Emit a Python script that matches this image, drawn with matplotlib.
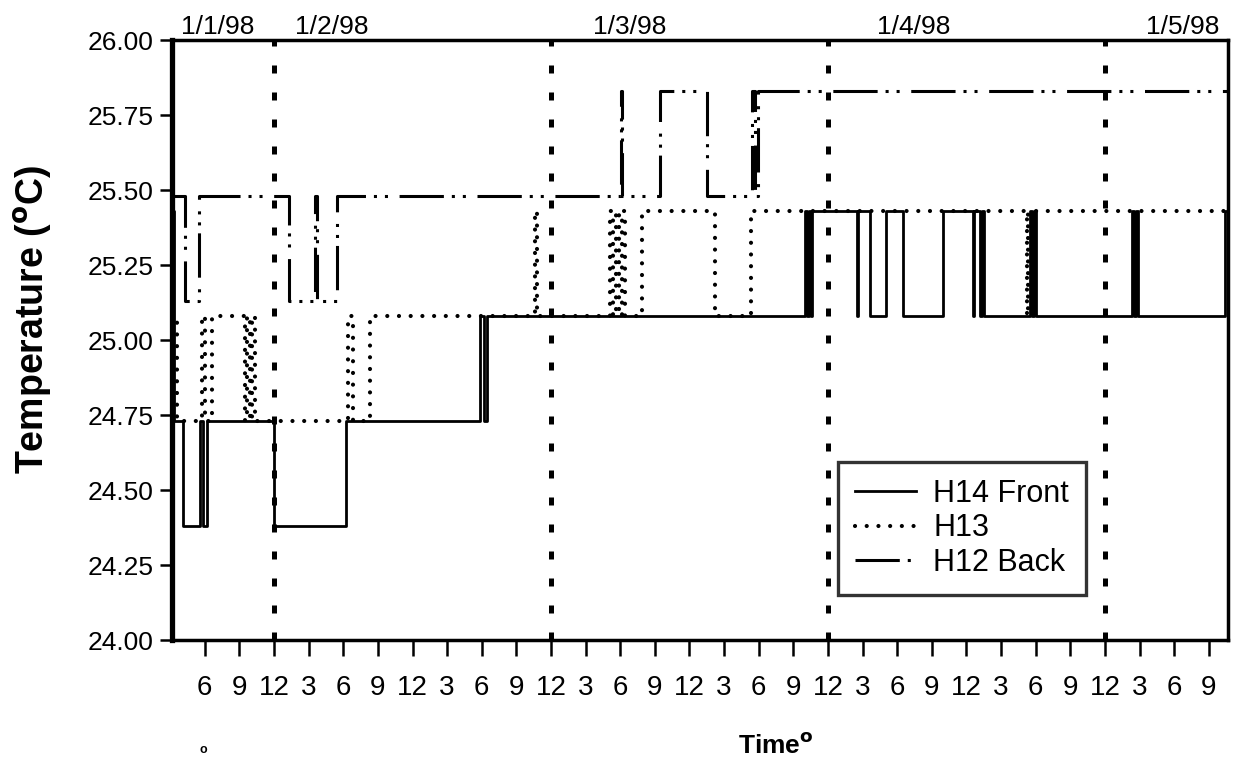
# -*- coding: utf-8 -*-
## Temperature steps of three sensors, 1/1/98 - 1/5/98

import matplotlib
matplotlib.use('Agg')
import matplotlib.pyplot as plt

##################
# Configurations #
##################
FIG_W, FIG_H, DPI = 12.33, 7.62, 100
plt.rcParams['font.family'] = ['Liberation Sans', 'DejaVu Sans']

# time axis in hours counted from 1/1/98 00:00
X_MIN, X_MAX = 15.16, 106.67
MIDNIGHTS = [24, 48, 72, 96]
DATE_LABELS = ['1/1/98', '1/2/98', '1/3/98', '1/4/98', '1/5/98']
DATE_POS = [19.1, 29.0, 54.8, 79.4, 102.7]
X_TICKS = list(range(18, 106, 3))
X_TICK_LABELS = ['6', '9', '12', '3'] * 7 + ['6', '9']
Y_TICKS = [24.00, 24.25, 24.50, 24.75, 25.00, 25.25, 25.50, 25.75, 26.00]

# each value holds from its time until the next time
H14_TIME = [15.16, 15.33, 16.11, 17.59, 17.85, 18.19, 24.00, 30.24, 41.85, 42.20,
            42.46, 70.01, 70.18, 70.36, 70.53, 70.62, 74.52, 74.61, 75.65, 77.03,
            78.51, 81.97, 84.57, 84.66, 85.18, 85.36, 85.53, 89.51, 89.69, 89.86,
            90.03, 98.35, 98.53, 98.70, 98.87, 106.41]
H14_TEMP = [25.43, 24.73, 24.38, 24.73, 24.38, 24.73, 24.38, 24.73, 25.08, 24.73,
            25.08, 25.43, 25.08, 25.43, 25.08, 25.43, 25.08, 25.43, 25.08, 25.43,
            25.08, 25.43, 25.08, 25.43, 25.08, 25.43, 25.08, 25.43, 25.08, 25.43,
            25.08, 25.43, 25.08, 25.43, 25.08, 25.43]

H13_TIME = [15.16, 15.59, 17.76, 18.02, 18.63, 21.49, 21.66, 21.92, 22.09, 22.35,
            30.41, 30.85, 32.32, 46.62, 46.79, 53.12, 53.38, 53.64, 53.90, 54.16,
            54.42, 55.89, 62.22, 65.33, 89.25, 89.34]
H13_TEMP = [25.08, 24.73, 25.08, 24.73, 25.08, 24.73, 25.08, 24.73, 25.08, 24.73,
            25.08, 24.73, 25.08, 25.43, 25.08, 25.43, 25.08, 25.43, 25.08, 25.43,
            25.08, 25.43, 25.08, 25.43, 25.08, 25.43]

H12_TIME = [15.16, 16.29, 17.50, 25.30, 27.55, 27.73, 29.46, 54.07, 54.16, 57.45,
            61.52, 65.42, 65.68, 65.94]
H12_TEMP = [25.48, 25.13, 25.48, 25.13, 25.48, 25.13, 25.48, 25.83, 25.48, 25.83,
            25.48, 25.83, 25.48, 25.83]


def step_line(ax, times, temps, **kw):
    # extend the last level to the right edge
    return ax.step(times + [X_MAX], temps + [temps[-1]], where='post', **kw)[0]


fig = plt.figure(figsize=(FIG_W, FIG_H), dpi=DPI)
ax = fig.add_axes([0.1395, 0.160, 0.8565, 0.7875])

for m in MIDNIGHTS:
    ax.axvline(m, color='black', lw=3.6, dashes=(1.6, 3.8),
               dash_capstyle='butt', zorder=1)

step_line(ax, H14_TIME, H14_TEMP, color='black', lw=2.0,
          label='H14 Front', zorder=3)
step_line(ax, H13_TIME, H13_TEMP, color='black', lw=3.0,
          dashes=(0.01, 2.8), dash_capstyle='round', label='H13', zorder=3)
step_line(ax, H12_TIME, H12_TEMP, color='black', lw=2.2,
          dashes=(14.5, 2.6, 1.0, 2.6, 1.0, 3.8), label='H12 Back', zorder=3)

ax.set_xlim(X_MIN, X_MAX)
ax.set_ylim(24.0, 26.0)
ax.set_xticks(X_TICKS)
ax.set_xticklabels(X_TICK_LABELS, fontsize=20)
ax.set_yticks(Y_TICKS)
ax.set_yticklabels(['%.2f' % y for y in Y_TICKS], fontsize=19)
ax.tick_params(axis='x', direction='out', length=11.5, width=1.8, pad=14)
ax.tick_params(axis='y', direction='out', length=9, width=1.8, pad=4)

for side in ['top', 'right', 'bottom']:
    ax.spines[side].set_linewidth(2.5)
ax.spines['left'].set_linewidth(3.8)

ax.set_ylabel(r'Temperature ($\mathbf{^{o}}$C)', fontsize=27,
              fontweight='bold')
ax.yaxis.set_label_coords(-0.112, 0.535)
ax.set_xlabel(r'Time$\mathbf{^{o}}$', fontsize=19, fontweight='bold')
ax.xaxis.set_label_coords(0.572, -0.155)

# stray mark from the scanned original
fig.text(203 / 1233, 1 - 750 / 762, 'o', fontsize=9, fontweight='bold',
         ha='center', va='center')

for lbl, pos in zip(DATE_LABELS, DATE_POS):
    ax.text(pos, 1.002, lbl, transform=ax.get_xaxis_transform(),
            ha='center', va='bottom', fontsize=19)

leg = ax.legend(loc='upper left', bbox_to_anchor=(0.631, 0.297),
                fontsize=22, frameon=True, fancybox=False,
                handlelength=2.0, handletextpad=0.55, borderpad=0.55,
                labelspacing=0.15, borderaxespad=0)
leg.get_frame().set_edgecolor('black')
leg.get_frame().set_linewidth(2.4)

fig.savefig('out.png', dpi=DPI)
